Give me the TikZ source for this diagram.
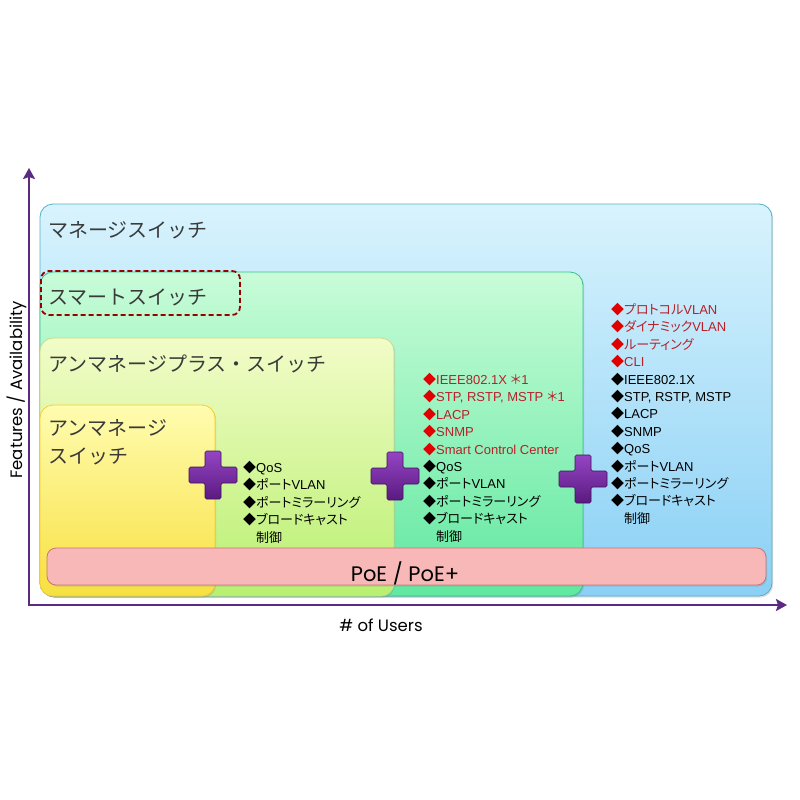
\documentclass[tikz,border=0pt]{standalone}
\usepackage{fontspec}
\setmainfont{Liberation Sans}
\newfontfamily\jpfont{Noto Sans CJK JP}[RawFeature=+palt]
\newfontfamily\jptitlefont{Noto Sans CJK JP}
\newfontfamily\axisfont{Poppins}
\usetikzlibrary{arrows.meta,shadows}
\definecolor{axispurple}{HTML}{5B2A82}
\definecolor{titlegray}{HTML}{3A3A3A}
\definecolor{diared}{HTML}{E00000}
\definecolor{txtred}{HTML}{B8202A}
\definecolor{mgtop}{HTML}{D8F3FD}
\definecolor{mgbot}{HTML}{8AD0F5}
\definecolor{smtop}{HTML}{C8FCD8}
\definecolor{smbot}{HTML}{60E8A0}
\definecolor{uptop}{HTML}{F2FCC8}
\definecolor{upbot}{HTML}{B8F070}
\definecolor{untop}{HTML}{FFFCB0}
\definecolor{unbot}{HTML}{F8E040}
\definecolor{poepink}{HTML}{F8B8B8}
\definecolor{crosstop}{HTML}{9545C4}
\definecolor{crossbot}{HTML}{5A1A80}
\newcommand{\jp}[1]{{\jpfont #1}}
\newcommand{\rdia}[1]{\textcolor{diared}{\jp{◆}}\textcolor{txtred}{#1}}
\newcommand{\bdia}[1]{\jp{◆}#1}

\begin{document}
\begin{tikzpicture}[x=1pt,y=-1pt,
  areabox/.style={rounded corners=13pt,line width=.8pt,drop shadow={opacity=.25,shadow xshift=1.2pt,shadow yshift=-1.5pt}},
  areatitle/.style={anchor=west,inner sep=0pt,text=titlegray,font=\jptitlefont\fontsize{20}{28}\selectfont},
  featlist/.style={anchor=north west,inner sep=0pt,align=left,font=\fontsize{13}{17.4}\selectfont},
  crossfill/.style={top color=crosstop,bottom color=crossbot,draw=crossbot!70!black,line width=.6pt,rounded corners=1.5pt},
  axis/.style={axispurple,line width=2.8pt,{Stealth[length=11pt,width=12pt,inset=2pt]}-{Stealth[length=11pt,width=12pt,inset=2pt]}}]
\useasboundingbox (0,0) rectangle (800,800);
\fill[white] (0,0) rectangle (800,800);

% nested switch classes
\draw[areabox,draw=mgbot!60!teal,top color=mgtop,bottom color=mgbot] (40,204) rectangle (772,596);
\draw[areabox,draw=smbot!60!teal,top color=smtop,bottom color=smbot] (40,272) rectangle (583,596);
\draw[areabox,draw=upbot!60!olive!60,top color=uptop,bottom color=upbot] (40,338) rectangle (394,596);
\draw[areabox,draw=unbot!80!orange,top color=untop,bottom color=unbot] (40,405) rectangle (215,596);
\draw[red!60!black,dash pattern=on 5pt off 3pt,line width=1.8pt,rounded corners=8pt] (41,271) rectangle (240,315);

\node[areatitle] (managed) at (48,230) {マネージスイッチ};
\node[areatitle] (smart) at (48,297) {スマートスイッチ};
\node[areatitle] (unmplus) at (48,364) {アンマネージプラス・スイッチ};
\node[areatitle,anchor=north west,align=left] (unm) at (48,419) {アンマネージ\\スイッチ};

% PoE bar
\draw[areabox,rounded corners=9pt,draw=poepink!80!red!80!black,fill=poepink] (47,548) rectangle (766,585);
\node[anchor=base,inner sep=0pt,font=\axisfont\fontsize{21}{24}\selectfont] (poe) at (405,581) {PoE / PoE+};

% plus marks
\foreach \cx/\cy in {213/475,395/476,583/479}{
  \begin{scope}[shift={(\cx,\cy)}]
    \draw[crossfill] (-8,-24) -- (8,-24) -- (8,-8) -- (24,-8) -- (24,8) -- (8,8) -- (8,24)
      -- (-8,24) -- (-8,8) -- (-24,8) -- (-24,-8) -- (-8,-8) -- cycle;
  \end{scope}
}

% feature lists
\node[featlist] (featA) at (243,461) {\bdia{QoS}\\\bdia{\jp{ポート}VLAN}\\\bdia{\jp{ポートミラーリング}}\\\bdia{\jp{ブロードキャスト}}\\\jp{\phantom{◆}制御}};
\node[featlist] (featB) at (423,373) {\rdia{IEEE802.1X \jp{＊}1}\\\rdia{STP, RSTP, MSTP \jp{＊}1}\\\rdia{LACP}\\\rdia{SNMP}\\\rdia{Smart Control Center}\\
  \bdia{QoS}\\\bdia{\jp{ポート}VLAN}\\\bdia{\jp{ポートミラーリング}}\\\bdia{\jp{ブロードキャスト}}\\\jp{\phantom{◆}制御}};
\node[featlist] (featC) at (611,303) {\rdia{\jp{プロトコル}VLAN}\\\rdia{\jp{ダイナミック}VLAN}\\\rdia{\jp{ルーティング}}\\\rdia{CLI}\\
  \bdia{IEEE802.1X}\\\bdia{STP, RSTP, MSTP}\\\bdia{LACP}\\\bdia{SNMP}\\\bdia{QoS}\\\bdia{\jp{ポート}VLAN}\\\bdia{\jp{ポートミラーリング}}\\\bdia{\jp{ブロードキャスト}}\\\jp{\phantom{◆}制御}};

% axes
\coordinate (origin) at (29,605);
\coordinate (ytip) at (29,168);
\coordinate (xtip) at (787,605);
\draw[axis] (ytip) -- (origin) -- (xtip);
\node[rotate=90,font=\axisfont\fontsize{16.5}{18}\selectfont] (ylabel) at (17,390) {Features / Availability};
\node[font=\axisfont\fontsize{16.5}{18}\selectfont] (xlabel) at (381,625) {\# of Users};
\end{tikzpicture}
\end{document}
